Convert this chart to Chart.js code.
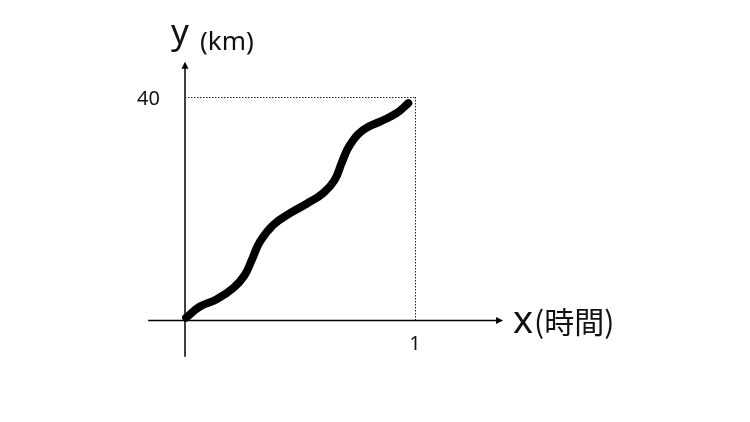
<!DOCTYPE html>
<html>
<head>
<meta charset="utf-8">
<script src="https://cdn.jsdelivr.net/npm/chart.js@4"></script>
<style>
  html, body { margin: 0; padding: 0; background: #fff; }
  canvas { display: block; }
</style>
</head>
<body>
<canvas id="distChart" width="750" height="422"></canvas>
<script>
// distance over time (x in hours, y in km)
const timeValues = [0.005, 0.065, 0.138, 0.21, 0.259, 0.291, 0.326, 0.384, 0.457, 0.529, 0.601, 0.65, 0.683, 0.717, 0.775, 0.848, 0.92, 0.971];
const distValues = [0.5, 2.5, 3.8, 5.8, 8.1, 10.9, 14.1, 17.1, 19.2, 20.9, 22.8, 25.1, 28.4, 31.4, 34.1, 35.6, 37.1, 38.9];
const xTick = 1;
const yTick = 40;
const xTickLabel = "1";
const yTickLabel = "40";
const xAxisName = "x";
const xAxisUnit = "(時間)";
const yAxisName = "y";
const yAxisUnit = "(km)";

// axis drawn from / to (data units)
const xAxisFrom = -0.16, xAxisTo = 1.383;
const yAxisFrom = -6.5, yAxisTo = 46.3;

const points = timeValues.map((t, i) => ({ x: t, y: distValues[i] }));

// pixel mapping: x=0 at 185px, 230px per hour; y=0 at 320.5px, 5.5875px per km
const W = 750, H = 422;
const xMin = -185 / 230, xMax = (W - 185) / 230;
const yMax = 320.5 / 5.5875, yMin = -(H - 320.5) / 5.5875;

const axesPlugin = {
    id: "axesPlugin",
    beforeDatasetsDraw(chart) {
        const ctx = chart.ctx;
        const xs = chart.scales.x, ys = chart.scales.y;
        const ox = xs.getPixelForValue(0), oy = ys.getPixelForValue(0);
        const tx = xs.getPixelForValue(xTick), ty = ys.getPixelForValue(yTick);

        ctx.save();
        // dotted guides
        ctx.strokeStyle = "#222";
        ctx.lineWidth = 1;
        ctx.setLineDash([1.5, 1.5]);
        ctx.beginPath();
        ctx.moveTo(ox, Math.round(ty) + 0.5);
        ctx.lineTo(tx, Math.round(ty) + 0.5);
        ctx.moveTo(Math.round(tx) + 0.5, ty);
        ctx.lineTo(Math.round(tx) + 0.5, oy);
        ctx.stroke();
        ctx.setLineDash([]);

        // axes
        const x0 = xs.getPixelForValue(xAxisFrom), x1 = xs.getPixelForValue(xAxisTo);
        const y0 = ys.getPixelForValue(yAxisFrom), y1 = ys.getPixelForValue(yAxisTo);
        ctx.strokeStyle = "#000";
        ctx.fillStyle = "#000";
        ctx.lineWidth = 1.5;
        ctx.beginPath();
        ctx.moveTo(x0, oy);
        ctx.lineTo(x1 - 5, oy);
        ctx.moveTo(ox, y0);
        ctx.lineTo(ox, y1 + 5);
        ctx.stroke();
        // arrow heads
        ctx.beginPath();
        ctx.moveTo(x1, oy);
        ctx.lineTo(x1 - 7, oy - 3.5);
        ctx.lineTo(x1 - 7, oy + 3.5);
        ctx.closePath();
        ctx.fill();
        ctx.beginPath();
        ctx.moveTo(ox, y1);
        ctx.lineTo(ox - 3.5, y1 + 7);
        ctx.lineTo(ox + 3.5, y1 + 7);
        ctx.closePath();
        ctx.fill();

        // tick labels
        ctx.fillStyle = "#111";
        ctx.font = "20px 'Noto Sans', sans-serif";
        ctx.textAlign = "right";
        ctx.textBaseline = "middle";
        ctx.fillText(yTickLabel, ox - 25, ty + 2);
        ctx.textAlign = "center";
        ctx.fillText(xTickLabel, tx, oy + 24);

        // axis titles
        ctx.textBaseline = "alphabetic";
        ctx.textAlign = "center";
        ctx.font = "35px 'Noto Sans', sans-serif";
        ctx.fillText(yAxisName, ox - 5, y1 - 18);
        ctx.textAlign = "left";
        ctx.font = "26px 'Noto Sans', sans-serif";
        ctx.fillText(yAxisUnit, ox + 15, y1 - 12);

        ctx.font = "38px 'Noto Sans', sans-serif";
        ctx.fillText(xAxisName, x1 + 10, oy + 12);
        ctx.font = "30px 'Noto Sans CJK JP', 'Noto Sans', sans-serif";
        ctx.fillText(xAxisUnit, x1 + 31, oy + 12);
        ctx.restore();
    }
};

new Chart(document.getElementById("distChart").getContext("2d"), {
    type: "scatter",
    data: {
        datasets: [
            {
                data: points,
                showLine: true,
                borderColor: "#000",
                borderWidth: 8,
                borderCapStyle: "round",
                borderJoinStyle: "round",
                tension: 0.45,
                pointRadius: 0,
                clip: false,
            },
        ],
    },
    options: {
        responsive: false,
        animation: false,
        layout: { padding: 0 },
        plugins: {
            legend: { display: false },
            tooltip: { enabled: false },
        },
        scales: {
            x: { type: "linear", min: xMin, max: xMax, display: false },
            y: { type: "linear", min: yMin, max: yMax, display: false },
        },
    },
    plugins: [axesPlugin],
});
</script>
</body>
</html>
